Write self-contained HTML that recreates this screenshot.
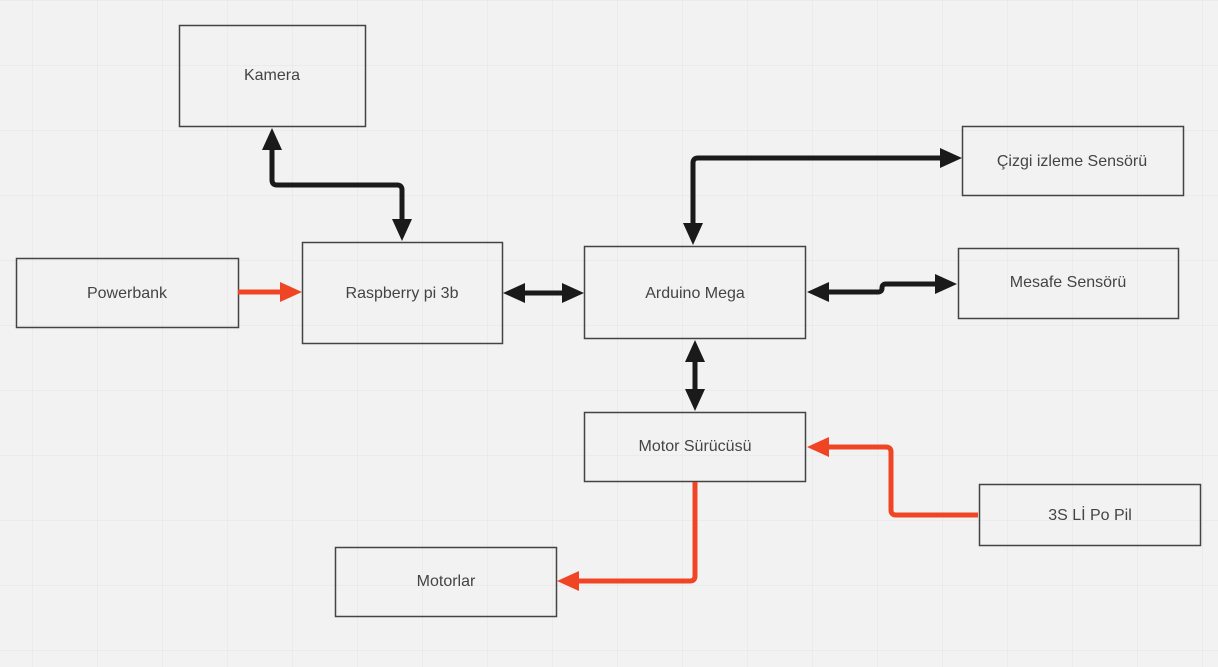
<!DOCTYPE html>
<html><head><style>
html,body{margin:0;padding:0;background:#f2f2f2;}
body{width:1218px;height:667px;overflow:hidden;}
</style></head><body>
<svg width="1218" height="667" xmlns="http://www.w3.org/2000/svg" style="position:absolute;left:0;top:0">
<defs>
<pattern id="g" x="32" y="0" width="65" height="65" patternUnits="userSpaceOnUse">
<path d="M0 0V65M0 0H65" stroke="#e4e4e4" stroke-width="1" fill="none"/>
</pattern>
</defs>
<rect width="1218" height="667" fill="#f2f2f2"/>
<rect width="1218" height="667" fill="url(#g)"/>
<g fill="none" stroke="#444" stroke-width="1.5">
<rect x="179.5" y="25.5" width="186" height="101"/>
<rect x="962.5" y="126.5" width="221" height="69"/>
<rect x="16.5" y="258.5" width="222" height="69"/>
<rect x="302.5" y="242.5" width="200" height="101"/>
<rect x="584.5" y="246.5" width="221" height="92"/>
<rect x="958.5" y="248.5" width="220" height="70"/>
<rect x="584.5" y="412.5" width="221" height="69"/>
<rect x="979.5" y="484.5" width="221" height="61"/>
<rect x="335.5" y="547.5" width="221" height="69"/>
</g>
<g font-family="Liberation Sans, sans-serif" font-size="16" fill="#444" text-anchor="middle">
<text x="272" y="80">Kamera</text>
<text x="1072" y="166">Çizgi izleme Sensörü</text>
<text x="127" y="298">Powerbank</text>
<text x="402" y="298">Raspberry pi 3b</text>
<text x="695" y="298">Arduino Mega</text>
<text x="1068" y="287">Mesafe Sensörü</text>
<text x="695" y="451">Motor Sürücüsü</text>
<text x="1090" y="520">3S Lİ Po Pil</text>
<text x="446" y="586">Motorlar</text>
</g>
<g fill="none" stroke="#1a1a1a" stroke-width="5" stroke-linejoin="round">
<path d="M272 145V180Q272 185 277 185H397Q402 185 402 190V225"/>
<path d="M520 293H567"/>
<path d="M693 226V163Q693 158 698 158H945"/>
<path d="M825 292H878Q882 292 882 288Q882 284 886 284H940"/>
<path d="M695 360V394"/>
</g>
<g fill="#1a1a1a">
<polygon points="272,128 262,150 282,150"/>
<polygon points="402,241 392,219 412,219"/>
<polygon points="503,293 525,283 525,303"/>
<polygon points="584,293 562,283 562,303"/>
<polygon points="693,245 683,223 703,223"/>
<polygon points="962,158 940,148 940,168"/>
<polygon points="807,292 829,282 829,302"/>
<polygon points="957,284 935,274 935,294"/>
<polygon points="695,340 685,362 705,362"/>
<polygon points="695,411 685,389 705,389"/>
</g>
<g fill="none" stroke="#f04525" stroke-width="5" stroke-linejoin="round">
<path d="M238 292H284"/>
<path d="M978 515H896Q891 515 891 510V452Q891 447 886 447H826"/>
<path d="M695 482V576Q695 581 690 581H578"/>
</g>
<g fill="#f04525">
<polygon points="302,292 280,282 280,302"/>
<polygon points="807,447 829,437 829,457"/>
<polygon points="557,581 579,571 579,591"/>
</g>
</svg>
</body></html>
